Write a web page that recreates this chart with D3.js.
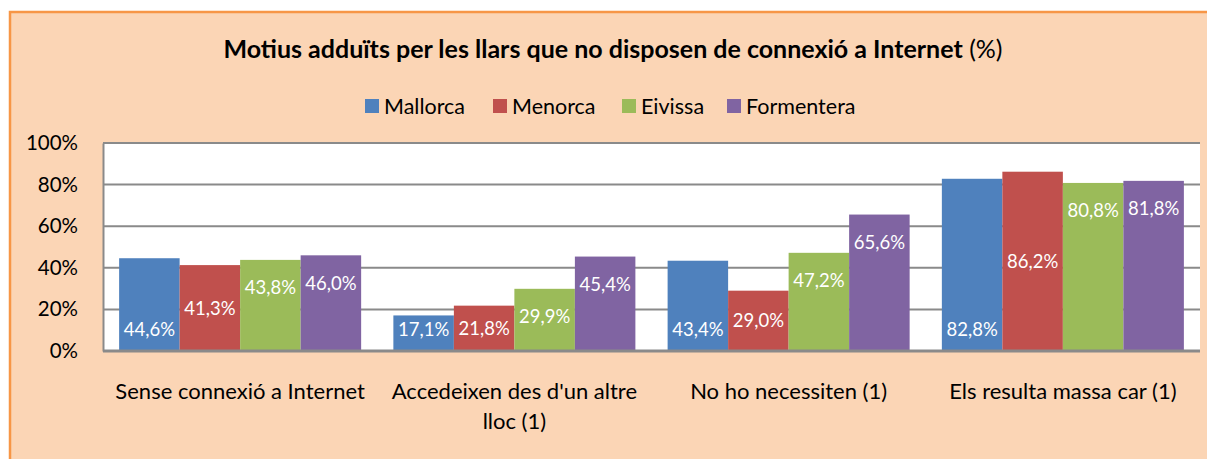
<!DOCTYPE html>
<html>
<head>
<meta charset="utf-8">
<script src="https://cdn.jsdelivr.net/npm/d3@7"></script>
<style>
    body { margin: 0; background: #ffffff; }
    svg text { font-family: Lato, "Open Sans", sans-serif; }
</style>
</head>
<body>
<div id="chart"></div>
<script>
// chart data
const categories = ["Sense connexió a Internet", "Accedeixen des d'un altre lloc (1)", "No ho necessiten (1)", "Els resulta massa car (1)"];
const seriesNames = ["Mallorca", "Menorca", "Eivissa", "Formentera"];
const mallorca = [44.6, 17.1, 43.4, 82.8];
const menorca = [41.3, 21.8, 29.0, 86.2];
const eivissa = [43.8, 29.9, 47.2, 80.8];
const formentera = [46.0, 45.4, 65.6, 81.8];
const yTicks = [0, 20, 40, 60, 80, 100];

const seriesValues = [mallorca, menorca, eivissa, formentera];
const colors = ["#4F81BD", "#C0504D", "#9BBB59", "#8064A2"];
// where each series puts its value label (as in the original sheet)
const labelMode = ["base", "center", "end", "end"];

const width = 1207, height = 459;
const plot = {left: 103, right: 1200, top: 143, bottom: 351};

const svg = d3.select("#chart").append("svg")
    .attr("width", width)
    .attr("height", height);

// chart background
svg.append("rect")
    .attr("x", 10).attr("y", 12)
    .attr("width", width + 20).attr("height", height + 20)
    .attr("fill", "#FBD5B5")
    .attr("stroke", "#F79646")
    .attr("stroke-width", 2.5);

// title
let title = svg.append("text")
    .attr("x", 613).attr("y", 58)
    .attr("text-anchor", "middle")
    .attr("font-size", 25)
    .attr("fill", "#000");
title.append("tspan").attr("font-weight", "bold")
    .text("Motius adduïts per les llars que no disposen de connexió a Internet");
title.append("tspan").text(" (%)");

// scales
let x0 = d3.scaleBand()
    .domain(categories)
    .range([plot.left, plot.right])
    .paddingInner(0.1175)
    .paddingOuter(0.0588);

let x1 = d3.scaleBand()
    .domain(seriesNames)
    .range([0, x0.bandwidth()]);

let y = d3.scaleLinear()
    .domain([0, 100])
    .range([plot.bottom, plot.top]);

// plot area
svg.append("rect")
    .attr("x", plot.left).attr("y", plot.top)
    .attr("width", plot.right - plot.left)
    .attr("height", plot.bottom - plot.top)
    .attr("fill", "#ffffff");

// gridlines
svg.append("g")
    .selectAll("line")
    .data(yTicks.filter(d => d > 0))
    .join("line")
    .attr("x1", plot.left).attr("x2", plot.right)
    .attr("y1", d => y(d)).attr("y2", d => y(d))
    .attr("stroke", "#8A8A8A")
    .attr("stroke-width", 2);

// y axis
let yAxis = d3.axisLeft(y)
    .tickValues(yTicks)
    .tickSize(0)
    .tickPadding(25)
    .tickFormat(d => d + "%");

let yG = svg.append("g")
    .attr("transform", "translate(" + plot.left + ",0)")
    .call(yAxis);
yG.select(".domain").attr("stroke", "#8A8A8A").attr("stroke-width", 2);
yG.selectAll("text")
    .attr("font-size", 20.5)
    .attr("fill", "#000")
    .attr("font-family", "Lato, sans-serif");

// bars
let groups = svg.append("g")
    .selectAll("g")
    .data(categories)
    .join("g")
    .attr("transform", d => "translate(" + x0(d) + ",0)");

let cells = groups.selectAll("g")
    .data((c, ci) => seriesNames.map((s, si) => ({s: s, si: si, v: seriesValues[si][ci]})))
    .join("g");

cells.append("rect")
    .attr("x", d => x1(d.s))
    .attr("y", d => y(d.v))
    .attr("width", x1.bandwidth())
    .attr("height", d => y(0) - y(d.v))
    .attr("fill", d => colors[d.si]);

cells.append("text")
    .attr("x", d => x1(d.s) + x1.bandwidth() / 2)
    .attr("y", function (d) {
        let mode = labelMode[d.si];
        if (mode === "base") return y(0) - 21;
        if (mode === "center") return (y(0) + y(d.v)) / 2;
        return y(d.v) + 28;
    })
    .attr("dy", "0.35em")
    .attr("text-anchor", "middle")
    .attr("font-size", 18.5)
    .attr("fill", "#ffffff")
    .text(d => d.v.toFixed(1).replace(".", ",") + "%");

// x axis line
svg.append("line")
    .attr("x1", plot.left).attr("x2", plot.right)
    .attr("y1", plot.bottom).attr("y2", plot.bottom)
    .attr("stroke", "#8A8A8A")
    .attr("stroke-width", 3);

// category labels
let xAxis = d3.axisBottom(x0).tickSize(0).tickPadding(0);
let xG = svg.append("g")
    .attr("transform", "translate(0," + plot.bottom + ")")
    .call(xAxis);
xG.select(".domain").remove();
xG.selectAll("text")
    .attr("font-size", 22)
    .attr("fill", "#000")
    .attr("font-family", "Lato, sans-serif")
    .attr("y", 48)
    .attr("dy", 0)
    .call(wrap, x0.step() - 10);

function wrap(texts, maxWidth) {
    texts.each(function () {
        let text = d3.select(this);
        let words = text.text().split(" ");
        let line = [];
        let lineNo = 0;
        let ty = text.attr("y");
        text.text(null);
        let tspan = text.append("tspan").attr("x", 0).attr("y", ty);
        words.forEach(function (w) {
            line.push(w);
            tspan.text(line.join(" "));
            if (tspan.node().getComputedTextLength() > maxWidth && line.length > 1) {
                line.pop();
                tspan.text(line.join(" "));
                line = [w];
                lineNo++;
                tspan = text.append("tspan").attr("x", 0).attr("y", ty)
                    .attr("dy", lineNo * 30).text(w);
            }
        });
    });
}

// legend
let legendX = [365, 493, 622, 727];
let legend = svg.append("g")
    .selectAll("g")
    .data(seriesNames)
    .join("g")
    .attr("transform", (d, i) => "translate(" + legendX[i] + ",99)");

legend.append("rect")
    .attr("width", 14).attr("height", 14)
    .attr("fill", (d, i) => colors[i]);

legend.append("text")
    .attr("x", 19).attr("y", 7)
    .attr("dy", "0.35em")
    .attr("font-size", 21.5)
    .attr("fill", "#000")
    .text(d => d);
</script>
</body>
</html>
